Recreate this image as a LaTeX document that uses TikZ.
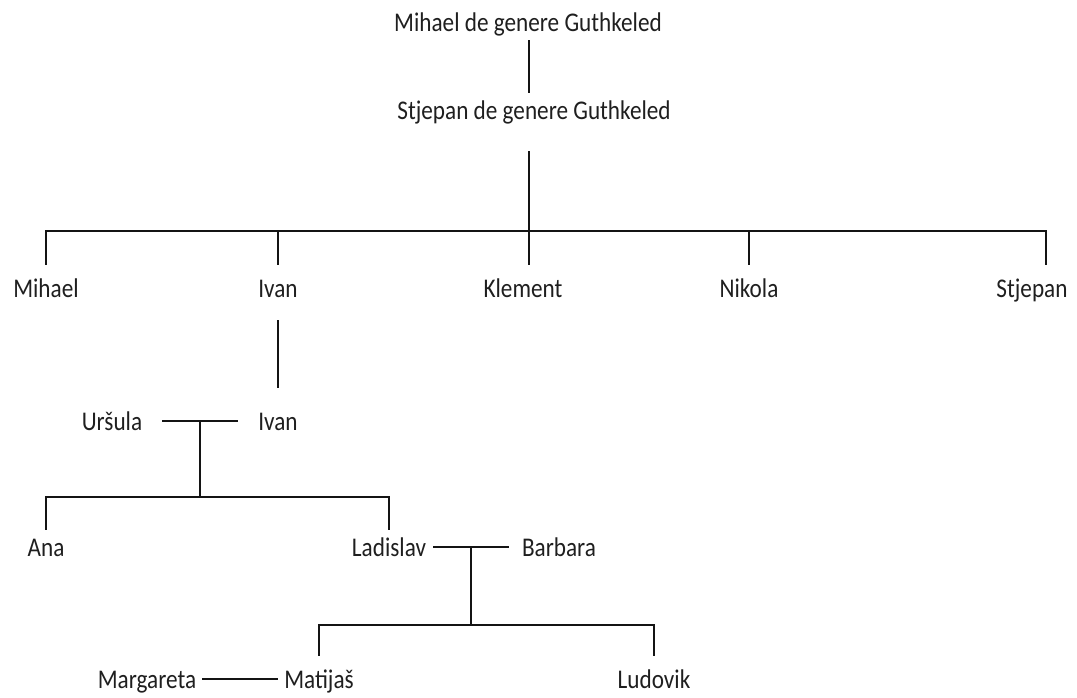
\documentclass[tikz,border=0pt]{standalone}
\usepackage{fontspec}
\setmainfont{Carlito}[FakeStretch=0.86]
\usetikzlibrary{positioning}

\begin{document}
\begin{tikzpicture}[x=1pt,y=-1pt,
person/.style={font=\fontsize{27}{32}\selectfont,text=black!88,anchor=base,
    text height=22pt,text depth=4pt,inner ysep=10pt,inner xsep=6pt},
line/.style={line width=2.4pt,draw=black!92}]
\useasboundingbox (0,0) rectangle (1077,698);

% generations
\node[person] (mihaelg) at (528,32) {Mihael de genere Guthkeled};
\node[person] (stjepang) at (534,120) {Stjepan de genere Guthkeled};

\node[person] (mihael) at (46,297) {Mihael};
\node[person] (ivan) at (278,297) {Ivan};
\node[person] (klement) at (523,297) {Klement};
\node[person] (nikola) at (749,297) {Nikola};
\node[person] (stjepan) at (1032,297) {Stjepan};

\node[person,inner xsep=20pt] (ursula) at (112,430) {Uršula};
\node[person,inner xsep=20pt] (ivanjr) at (278,430) {Ivan};

\node[person] (ana) at (46,556) {Ana};
\node[person,inner xsep=7pt] (ladislav) at (389,556) {Ladislav};
\node[person,inner xsep=13pt] (barbara) at (559,556) {Barbara};

\node[person,inner xsep=6pt] (margareta) at (147,688) {Margareta};
\node[person,inner xsep=6pt] (matijas) at (319,688) {Matijaš};
\node[person] (ludovik) at (654,688) {Ludovik};

\coordinate (bar1) at (529,231);
\coordinate (bar2) at (198,497);
\coordinate (bar3) at (473,625);

% line of descent
\draw[line] ([yshift=6pt]mihaelg.south -| bar1) -- ([yshift=-5pt]stjepang.north -| bar1);
\draw[line] ([yshift=-17pt]stjepang.south -| bar1) -- (bar1) -- ([xshift=6pt]klement.north);
\draw[line] (mihael.north) -- (mihael.north |- bar1) -- ([xshift=14pt]stjepan.north |- bar1)
    -- ([xshift=14pt]stjepan.north);
\draw[line] (ivan.north) -- (ivan.north |- bar1);
\draw[line] (nikola.north) -- (nikola.north |- bar1);

\draw[line] ([yshift=-9pt]ivan.south) -- ([yshift=10pt]ivanjr.north);

% marriages
\draw[line] (ursula) -- (ivanjr);
\path (ursula.east) -- (ivanjr.west) coordinate[midway] (wed1);
\draw[line] (wed1) -- (wed1 |- bar2);
\draw[line] ([yshift=-6pt]ana.north) |- (bar2) -| ([yshift=-6pt]ladislav.north);

\draw[line] (ladislav) -- (barbara);
\path (ladislav.east) -- (barbara.west) coordinate[midway] (wed2);
\draw[line] (wed2) -- (wed2 |- bar3);
\draw[line] (matijas.north) |- (bar3) -| (ludovik.north);

\draw[line] (margareta) -- (matijas);
\end{tikzpicture}
\end{document}
